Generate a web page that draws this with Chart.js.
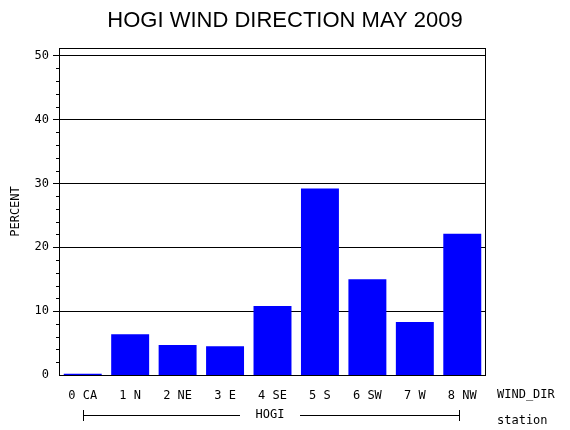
<!DOCTYPE html>
<html><head><script src="https://cdn.jsdelivr.net/npm/chart.js@4"></script>
<style>body{margin:0;background:#fff}</style></head>
<body><canvas id="c" width="570" height="430"></canvas>
<script>
const categories = ["0 CA","1 N","2 NE","3 E","4 SE","5 S","6 SW","7 W","8 NW"];
const percentValues = [0.2,6.4,4.7,4.5,10.8,29.2,15.0,8.3,22.1];
const yTicks = [0,10,20,30,40,50];
const F = "'DejaVu Sans Mono', monospace";
const extras = {
  id:'extras',
  afterDraw(ch){
    const c=ch.ctx, a=ch.chartArea, y=ch.scales.y;
    c.save();
    c.strokeStyle='#000'; c.lineWidth=1;
    c.strokeRect(a.left+0.5,a.top+0.5,a.right-a.left-1,a.bottom-a.top);
    // minor ticks
    for(let v=0;v<=51;v+=2){ if(v%10===0) continue; const p=Math.round(y.getPixelForValue(v))+0.5;
      c.beginPath(); c.moveTo(a.left-3,p); c.lineTo(a.left,p); c.stroke(); }
    c.fillStyle='#000';
    c.font="22px 'Liberation Sans', Arial, sans-serif"; c.textAlign='center'; c.textBaseline='middle';
    c.fillText('HOGI WIND DIRECTION MAY 2009', 285, 21);
    c.font="12px "+F;
    c.save(); c.translate(16,(a.top+a.bottom)/2); c.rotate(-Math.PI/2); c.fillText('PERCENT',0,0); c.restore();
    c.textAlign='left';
    c.fillText('WIND_DIR',497,395);
    c.fillText('station',497,421);
    c.beginPath(); c.moveTo(83,415.5); c.lineTo(240,415.5); c.moveTo(300,415.5); c.lineTo(459,415.5);
    c.moveTo(83.5,410); c.lineTo(83.5,421); c.moveTo(459.5,410); c.lineTo(459.5,421); c.stroke();
    c.textAlign='center'; c.fillText('HOGI',270,415);
    c.restore();
  }
};
new Chart(document.getElementById('c'),{
  type:'bar',
  data:{labels:categories,datasets:[{data:percentValues,backgroundColor:'#0000ff',borderWidth:0,barPercentage:0.8,categoryPercentage:1}]},
  options:{responsive:false,animation:false,
    layout:{padding:{top:48,right:84,left:0,bottom:0}},
    plugins:{legend:{display:false},title:{display:false},tooltip:{enabled:false}},
    scales:{
      x:{grid:{display:false,drawTicks:false},border:{display:false},
         ticks:{color:'#000',font:{family:F,size:12},padding:14,maxRotation:0},
         afterFit(s){s.height=55;}},
      y:{min:0,max:51.2,grid:{color:'#000',drawTicks:true,tickLength:6,lineWidth:ctx=>ctx.tick&&ctx.tick.value===0?0:1},
         border:{display:false},
         afterBuildTicks(s){s.ticks=yTicks.map(v=>({value:v}));},
         ticks:{color:'#000',font:{family:F,size:12},padding:4},
         afterFit(s){s.width=59;}}
    }},
  plugins:[extras]
});
</script></body></html>
